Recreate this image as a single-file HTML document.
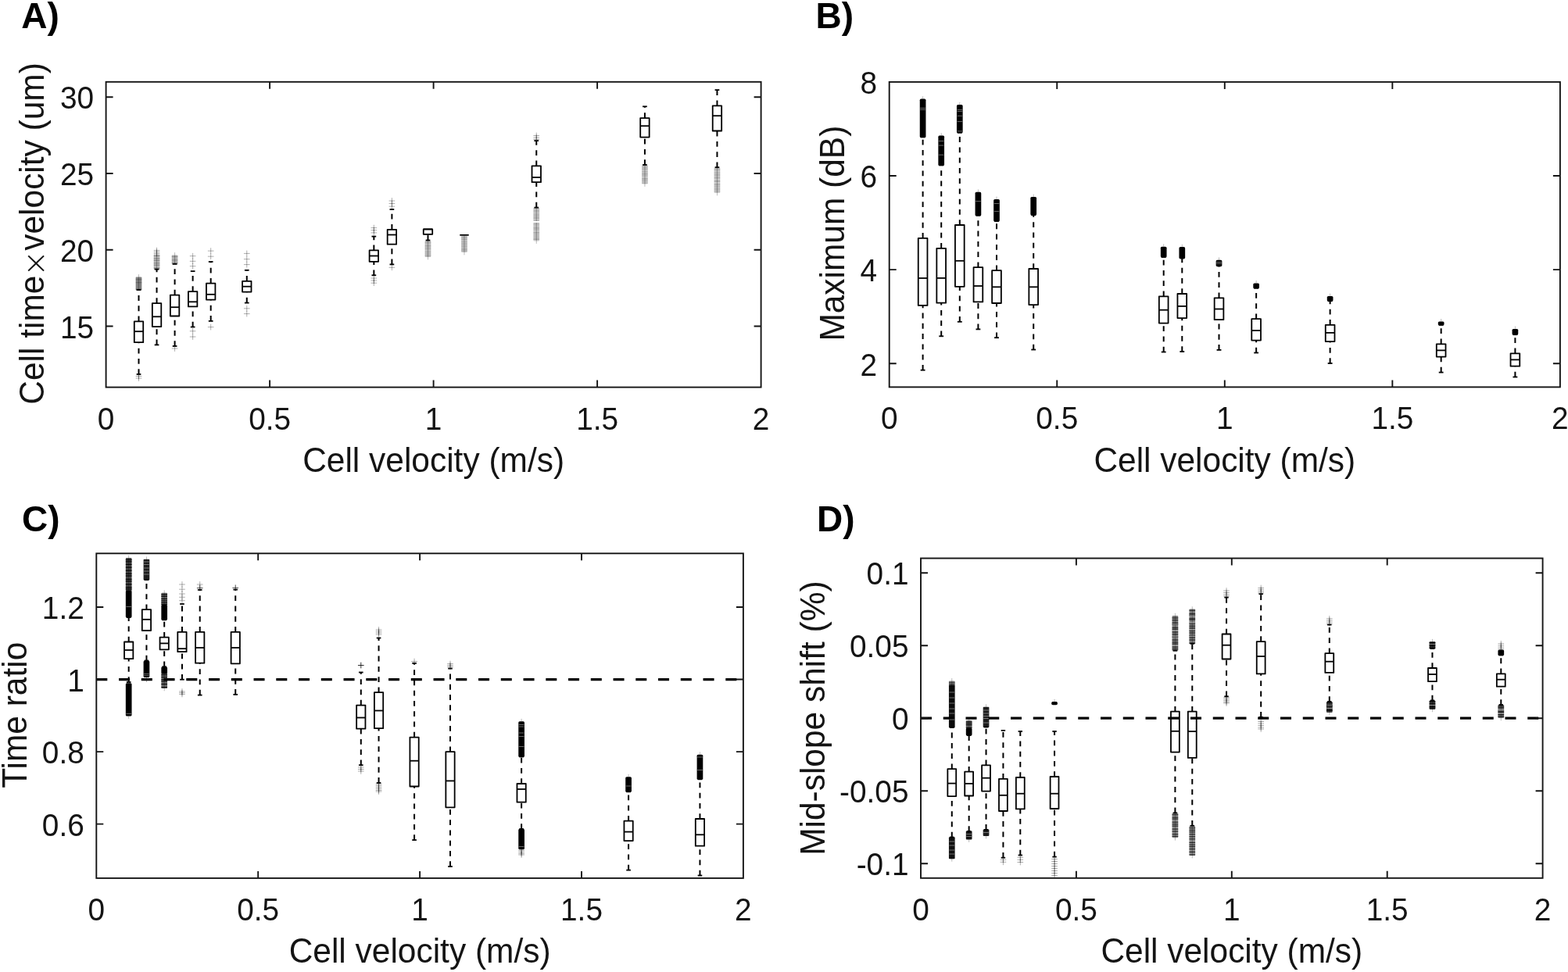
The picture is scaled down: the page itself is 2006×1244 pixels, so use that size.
<!DOCTYPE html>
<html><head><meta charset="utf-8"><title>Figure</title>
<style>
html,body{margin:0;padding:0;background:#fff;}
svg{display:block;filter:blur(0.4px);}
.ax{fill:none;stroke:#141414;stroke-width:1.9;}
.bx{fill:none;stroke:#000;stroke-width:1.8;stroke-linejoin:round;}
.wh{fill:none;stroke:#000;stroke-width:2.0;stroke-dasharray:6.8 6.46;}
.tk{font-family:"Liberation Sans",Arial,Helvetica,sans-serif;font-size:38.8px;fill:#141414;}
.lb{font-family:"Liberation Sans",Arial,Helvetica,sans-serif;font-size:42.45px;fill:#141414;}
.tm{font-family:"DejaVu Sans",sans-serif;font-weight:200;font-size:40px;}
.tt{font-family:"Liberation Sans",Arial,Helvetica,sans-serif;font-size:46px;font-weight:bold;fill:#000;}
</style></head><body>
<svg width="2006" height="1244" viewBox="0 0 2006 1244">
<defs><path id="m" d="M-3.85 0h7.7M0 -3.85v7.7" stroke="#000" stroke-width="1" fill="none"/></defs>
<rect width="2006" height="1244" fill="#fff"/>
<g>
<rect x="173.65" y="354.5" width="7.7" height="17" rx="1" fill="#000" opacity="0.5"/>
<line x1="177.5" y1="354.5" x2="177.5" y2="371.5" stroke="#000" stroke-width="1" opacity="0.3"/>
<line x1="173.65" y1="357.74" x2="181.35" y2="357.74" stroke="#000" stroke-width="1.2" opacity="0.2"/>
<line x1="173.65" y1="361.62" x2="181.35" y2="361.62" stroke="#000" stroke-width="1.2" opacity="0.2"/>
<line x1="173.65" y1="370.1" x2="181.35" y2="370.1" stroke="#000" stroke-width="1.2" opacity="0.2"/>
<line x1="177.5" y1="351.15" x2="177.5" y2="354.5" stroke="#000" stroke-width="0.9" opacity="0.3"/>
<use href="#m" x="177.5" y="481.5" opacity="0.32"/>
<use href="#m" x="177.5" y="484" opacity="0.32"/>
<line x1="177.5" y1="411.4" x2="177.5" y2="371" class="wh"/>
<line x1="174.64" y1="371" x2="180.36" y2="371" class="bx"/>
<line x1="177.5" y1="479" x2="177.5" y2="438.2" class="wh"/>
<line x1="174.64" y1="479" x2="180.36" y2="479" class="bx"/>
<rect x="171.78" y="411.4" width="11.44" height="26.8" class="bx"/>
<line x1="171.78" y1="424.2" x2="183.22" y2="424.2" class="bx"/>
<use href="#m" x="200.54" y="320.5" opacity="0.32"/>
<use href="#m" x="200.54" y="322.5" opacity="0.32"/>
<use href="#m" x="200.54" y="324.5" opacity="0.32"/>
<rect x="196.69" y="325.5" width="7.7" height="19.6" rx="1" fill="#000" opacity="0.28"/>
<line x1="200.54" y1="325.5" x2="200.54" y2="345.1" stroke="#000" stroke-width="1" opacity="0.3"/>
<line x1="196.69" y1="327.47" x2="204.39" y2="327.47" stroke="#000" stroke-width="1.2" opacity="0.25"/>
<line x1="196.69" y1="330.94" x2="204.39" y2="330.94" stroke="#000" stroke-width="1.2" opacity="0.25"/>
<line x1="196.69" y1="333.46" x2="204.39" y2="333.46" stroke="#000" stroke-width="1.2" opacity="0.25"/>
<line x1="196.69" y1="336.74" x2="204.39" y2="336.74" stroke="#000" stroke-width="1.2" opacity="0.25"/>
<line x1="196.69" y1="339.29" x2="204.39" y2="339.29" stroke="#000" stroke-width="1.2" opacity="0.25"/>
<line x1="196.69" y1="343.01" x2="204.39" y2="343.01" stroke="#000" stroke-width="1.2" opacity="0.25"/>
<line x1="200.54" y1="388.1" x2="200.54" y2="344.6" class="wh"/>
<line x1="197.69" y1="344.6" x2="203.4" y2="344.6" class="bx"/>
<line x1="200.54" y1="441.4" x2="200.54" y2="418.1" class="wh"/>
<line x1="197.69" y1="441.4" x2="203.4" y2="441.4" class="bx"/>
<rect x="194.83" y="388.1" width="11.44" height="30" class="bx"/>
<line x1="194.83" y1="405.3" x2="206.26" y2="405.3" class="bx"/>
<rect x="219.74" y="326.5" width="7.7" height="11.9" rx="1" fill="#000" opacity="0.3"/>
<line x1="223.59" y1="326.5" x2="223.59" y2="338.4" stroke="#000" stroke-width="1" opacity="0.3"/>
<line x1="219.74" y1="328.27" x2="227.44" y2="328.27" stroke="#000" stroke-width="1.2" opacity="0.2"/>
<line x1="219.74" y1="332.88" x2="227.44" y2="332.88" stroke="#000" stroke-width="1.2" opacity="0.2"/>
<line x1="219.74" y1="336.37" x2="227.44" y2="336.37" stroke="#000" stroke-width="1.2" opacity="0.2"/>
<line x1="223.59" y1="323.15" x2="223.59" y2="326.5" stroke="#000" stroke-width="0.9" opacity="0.3"/>
<use href="#m" x="223.59" y="446" opacity="0.32"/>
<line x1="223.59" y1="377.6" x2="223.59" y2="337.9" class="wh"/>
<line x1="220.73" y1="337.9" x2="226.45" y2="337.9" class="bx"/>
<line x1="223.59" y1="443" x2="223.59" y2="404.5" class="wh"/>
<line x1="220.73" y1="443" x2="226.45" y2="443" class="bx"/>
<rect x="217.87" y="377.6" width="11.44" height="26.9" class="bx"/>
<line x1="217.87" y1="393.2" x2="229.31" y2="393.2" class="bx"/>
<use href="#m" x="246.63" y="327.7" opacity="0.32"/>
<use href="#m" x="246.63" y="334.3" opacity="0.32"/>
<use href="#m" x="246.63" y="340.7" opacity="0.32"/>
<use href="#m" x="246.63" y="423.8" opacity="0.32"/>
<use href="#m" x="246.63" y="431" opacity="0.32"/>
<line x1="246.63" y1="373.1" x2="246.63" y2="347.1" class="wh"/>
<line x1="243.78" y1="347.1" x2="249.49" y2="347.1" class="bx"/>
<line x1="246.63" y1="418.5" x2="246.63" y2="392.4" class="wh"/>
<line x1="243.78" y1="418.5" x2="249.49" y2="418.5" class="bx"/>
<rect x="240.92" y="373.1" width="11.44" height="19.3" class="bx"/>
<line x1="240.92" y1="386.3" x2="252.35" y2="386.3" class="bx"/>
<use href="#m" x="269.68" y="321.1" opacity="0.32"/>
<use href="#m" x="269.68" y="328.2" opacity="0.32"/>
<use href="#m" x="269.68" y="418.6" opacity="0.32"/>
<line x1="269.68" y1="362.7" x2="269.68" y2="335" class="wh"/>
<line x1="266.82" y1="335" x2="272.54" y2="335" class="bx"/>
<line x1="269.68" y1="410.9" x2="269.68" y2="383.6" class="wh"/>
<line x1="266.82" y1="410.9" x2="272.54" y2="410.9" class="bx"/>
<rect x="263.96" y="362.7" width="11.44" height="20.9" class="bx"/>
<line x1="263.96" y1="376.8" x2="275.4" y2="376.8" class="bx"/>
<use href="#m" x="315.77" y="324.4" opacity="0.32"/>
<use href="#m" x="315.77" y="331.7" opacity="0.32"/>
<use href="#m" x="315.77" y="338.6" opacity="0.32"/>
<use href="#m" x="315.77" y="394.8" opacity="0.32"/>
<use href="#m" x="315.77" y="401.6" opacity="0.32"/>
<line x1="315.77" y1="359.8" x2="315.77" y2="345.8" class="wh"/>
<line x1="312.91" y1="345.8" x2="318.63" y2="345.8" class="bx"/>
<line x1="315.77" y1="387.6" x2="315.77" y2="373.6" class="wh"/>
<line x1="312.91" y1="387.6" x2="318.63" y2="387.6" class="bx"/>
<rect x="310.05" y="359.8" width="11.44" height="13.8" class="bx"/>
<line x1="310.05" y1="366.7" x2="321.49" y2="366.7" class="bx"/>
<use href="#m" x="478.34" y="291.6" opacity="0.32"/>
<use href="#m" x="478.34" y="294.7" opacity="0.32"/>
<use href="#m" x="478.34" y="297.9" opacity="0.32"/>
<use href="#m" x="478.34" y="356" opacity="0.32"/>
<use href="#m" x="478.34" y="359" opacity="0.32"/>
<use href="#m" x="478.34" y="362.2" opacity="0.32"/>
<line x1="478.34" y1="320.4" x2="478.34" y2="302.6" class="wh"/>
<line x1="475.48" y1="302.6" x2="481.2" y2="302.6" class="bx"/>
<line x1="478.34" y1="352.3" x2="478.34" y2="334.8" class="wh"/>
<line x1="475.48" y1="352.3" x2="481.2" y2="352.3" class="bx"/>
<rect x="472.62" y="320.4" width="11.44" height="14.4" class="bx"/>
<line x1="472.62" y1="327.5" x2="484.06" y2="327.5" class="bx"/>
<use href="#m" x="501.39" y="257" opacity="0.32"/>
<use href="#m" x="501.39" y="260.5" opacity="0.32"/>
<use href="#m" x="501.39" y="264.2" opacity="0.32"/>
<use href="#m" x="501.39" y="342.3" opacity="0.32"/>
<line x1="501.39" y1="293.8" x2="501.39" y2="268" class="wh"/>
<line x1="498.53" y1="268" x2="504.25" y2="268" class="bx"/>
<line x1="501.39" y1="338.4" x2="501.39" y2="312.7" class="wh"/>
<line x1="498.53" y1="338.4" x2="504.25" y2="338.4" class="bx"/>
<rect x="495.67" y="293.8" width="11.44" height="18.9" class="bx"/>
<line x1="495.67" y1="300.5" x2="507.11" y2="300.5" class="bx"/>
<rect x="543.63" y="308" width="7.7" height="21" rx="1" fill="#000" opacity="0.22"/>
<line x1="547.48" y1="308" x2="547.48" y2="329" stroke="#000" stroke-width="1" opacity="0.3"/>
<line x1="543.63" y1="309.9" x2="551.33" y2="309.9" stroke="#000" stroke-width="1.2" opacity="0.14"/>
<line x1="543.63" y1="311.12" x2="551.33" y2="311.12" stroke="#000" stroke-width="1.2" opacity="0.14"/>
<line x1="543.63" y1="313.91" x2="551.33" y2="313.91" stroke="#000" stroke-width="1.2" opacity="0.14"/>
<line x1="543.63" y1="315.13" x2="551.33" y2="315.13" stroke="#000" stroke-width="1.2" opacity="0.14"/>
<line x1="543.63" y1="317.19" x2="551.33" y2="317.19" stroke="#000" stroke-width="1.2" opacity="0.14"/>
<line x1="543.63" y1="318.89" x2="551.33" y2="318.89" stroke="#000" stroke-width="1.2" opacity="0.14"/>
<line x1="543.63" y1="321.87" x2="551.33" y2="321.87" stroke="#000" stroke-width="1.2" opacity="0.14"/>
<line x1="543.63" y1="323.95" x2="551.33" y2="323.95" stroke="#000" stroke-width="1.2" opacity="0.14"/>
<line x1="543.63" y1="326.09" x2="551.33" y2="326.09" stroke="#000" stroke-width="1.2" opacity="0.14"/>
<line x1="543.63" y1="327.73" x2="551.33" y2="327.73" stroke="#000" stroke-width="1.2" opacity="0.14"/>
<line x1="547.48" y1="329" x2="547.48" y2="332.35" stroke="#000" stroke-width="0.9" opacity="0.3"/>
<line x1="547.48" y1="307.5" x2="547.48" y2="299.8" class="wh"/>
<line x1="544.62" y1="307.5" x2="550.34" y2="307.5" class="bx"/>
<rect x="541.76" y="293.4" width="11.44" height="6.4" class="bx"/>
<line x1="541.76" y1="293.4" x2="553.2" y2="293.4" class="bx"/>
<rect x="590.14" y="301.5" width="7.7" height="21.5" rx="1" fill="#000" opacity="0.22"/>
<line x1="593.99" y1="301.5" x2="593.99" y2="323" stroke="#000" stroke-width="1" opacity="0.3"/>
<line x1="590.14" y1="303.37" x2="597.84" y2="303.37" stroke="#000" stroke-width="1.2" opacity="0.14"/>
<line x1="590.14" y1="305" x2="597.84" y2="305" stroke="#000" stroke-width="1.2" opacity="0.14"/>
<line x1="590.14" y1="306.62" x2="597.84" y2="306.62" stroke="#000" stroke-width="1.2" opacity="0.14"/>
<line x1="590.14" y1="309.29" x2="597.84" y2="309.29" stroke="#000" stroke-width="1.2" opacity="0.14"/>
<line x1="590.14" y1="311.4" x2="597.84" y2="311.4" stroke="#000" stroke-width="1.2" opacity="0.14"/>
<line x1="590.14" y1="313.48" x2="597.84" y2="313.48" stroke="#000" stroke-width="1.2" opacity="0.14"/>
<line x1="590.14" y1="315.57" x2="597.84" y2="315.57" stroke="#000" stroke-width="1.2" opacity="0.14"/>
<line x1="590.14" y1="318.04" x2="597.84" y2="318.04" stroke="#000" stroke-width="1.2" opacity="0.14"/>
<line x1="590.14" y1="319.59" x2="597.84" y2="319.59" stroke="#000" stroke-width="1.2" opacity="0.14"/>
<line x1="590.14" y1="321.14" x2="597.84" y2="321.14" stroke="#000" stroke-width="1.2" opacity="0.14"/>
<line x1="593.99" y1="323" x2="593.99" y2="326.35" stroke="#000" stroke-width="0.9" opacity="0.3"/>
<line x1="588.27" y1="300.8" x2="599.71" y2="300.8" class="bx"/>
<use href="#m" x="686.25" y="173.5" opacity="0.32"/>
<use href="#m" x="686.25" y="176" opacity="0.32"/>
<use href="#m" x="686.25" y="178.3" opacity="0.32"/>
<rect x="682.4" y="266" width="7.7" height="17.1" rx="1" fill="#000" opacity="0.2"/>
<line x1="686.25" y1="266" x2="686.25" y2="283.1" stroke="#000" stroke-width="1" opacity="0.3"/>
<line x1="682.4" y1="266.97" x2="690.1" y2="266.97" stroke="#000" stroke-width="1.2" opacity="0.14"/>
<line x1="682.4" y1="269.33" x2="690.1" y2="269.33" stroke="#000" stroke-width="1.2" opacity="0.14"/>
<line x1="682.4" y1="271.08" x2="690.1" y2="271.08" stroke="#000" stroke-width="1.2" opacity="0.14"/>
<line x1="682.4" y1="273.92" x2="690.1" y2="273.92" stroke="#000" stroke-width="1.2" opacity="0.14"/>
<line x1="682.4" y1="275.79" x2="690.1" y2="275.79" stroke="#000" stroke-width="1.2" opacity="0.14"/>
<line x1="682.4" y1="277.92" x2="690.1" y2="277.92" stroke="#000" stroke-width="1.2" opacity="0.14"/>
<line x1="682.4" y1="279.43" x2="690.1" y2="279.43" stroke="#000" stroke-width="1.2" opacity="0.14"/>
<line x1="682.4" y1="282.1" x2="690.1" y2="282.1" stroke="#000" stroke-width="1.2" opacity="0.14"/>
<rect x="682.4" y="284.9" width="7.7" height="23.6" rx="1" fill="#000" opacity="0.2"/>
<line x1="686.25" y1="284.9" x2="686.25" y2="308.5" stroke="#000" stroke-width="1" opacity="0.3"/>
<line x1="682.4" y1="285.73" x2="690.1" y2="285.73" stroke="#000" stroke-width="1.2" opacity="0.14"/>
<line x1="682.4" y1="287.83" x2="690.1" y2="287.83" stroke="#000" stroke-width="1.2" opacity="0.14"/>
<line x1="682.4" y1="290.89" x2="690.1" y2="290.89" stroke="#000" stroke-width="1.2" opacity="0.14"/>
<line x1="682.4" y1="292.33" x2="690.1" y2="292.33" stroke="#000" stroke-width="1.2" opacity="0.14"/>
<line x1="682.4" y1="294.06" x2="690.1" y2="294.06" stroke="#000" stroke-width="1.2" opacity="0.14"/>
<line x1="682.4" y1="297.28" x2="690.1" y2="297.28" stroke="#000" stroke-width="1.2" opacity="0.14"/>
<line x1="682.4" y1="298.47" x2="690.1" y2="298.47" stroke="#000" stroke-width="1.2" opacity="0.14"/>
<line x1="682.4" y1="300.77" x2="690.1" y2="300.77" stroke="#000" stroke-width="1.2" opacity="0.14"/>
<line x1="682.4" y1="303.35" x2="690.1" y2="303.35" stroke="#000" stroke-width="1.2" opacity="0.14"/>
<line x1="682.4" y1="305.55" x2="690.1" y2="305.55" stroke="#000" stroke-width="1.2" opacity="0.14"/>
<line x1="682.4" y1="306.43" x2="690.1" y2="306.43" stroke="#000" stroke-width="1.2" opacity="0.14"/>
<line x1="686.25" y1="308.5" x2="686.25" y2="311.85" stroke="#000" stroke-width="0.9" opacity="0.3"/>
<line x1="686.25" y1="212.3" x2="686.25" y2="180.1" class="wh"/>
<line x1="683.39" y1="180.1" x2="689.11" y2="180.1" class="bx"/>
<line x1="686.25" y1="265.6" x2="686.25" y2="233.2" class="wh"/>
<line x1="683.39" y1="265.6" x2="689.11" y2="265.6" class="bx"/>
<rect x="680.53" y="212.3" width="11.44" height="20.9" class="bx"/>
<line x1="680.53" y1="227" x2="691.97" y2="227" class="bx"/>
<rect x="821.09" y="211.5" width="7.7" height="24" rx="1" fill="#000" opacity="0.2"/>
<line x1="824.94" y1="211.5" x2="824.94" y2="235.5" stroke="#000" stroke-width="1" opacity="0.3"/>
<line x1="821.09" y1="213.22" x2="828.79" y2="213.22" stroke="#000" stroke-width="1.2" opacity="0.14"/>
<line x1="821.09" y1="215.13" x2="828.79" y2="215.13" stroke="#000" stroke-width="1.2" opacity="0.14"/>
<line x1="821.09" y1="216.97" x2="828.79" y2="216.97" stroke="#000" stroke-width="1.2" opacity="0.14"/>
<line x1="821.09" y1="219.67" x2="828.79" y2="219.67" stroke="#000" stroke-width="1.2" opacity="0.14"/>
<line x1="821.09" y1="221.95" x2="828.79" y2="221.95" stroke="#000" stroke-width="1.2" opacity="0.14"/>
<line x1="821.09" y1="223.17" x2="828.79" y2="223.17" stroke="#000" stroke-width="1.2" opacity="0.14"/>
<line x1="821.09" y1="225.02" x2="828.79" y2="225.02" stroke="#000" stroke-width="1.2" opacity="0.14"/>
<line x1="821.09" y1="228.39" x2="828.79" y2="228.39" stroke="#000" stroke-width="1.2" opacity="0.14"/>
<line x1="821.09" y1="229.76" x2="828.79" y2="229.76" stroke="#000" stroke-width="1.2" opacity="0.14"/>
<line x1="821.09" y1="231.65" x2="828.79" y2="231.65" stroke="#000" stroke-width="1.2" opacity="0.14"/>
<line x1="821.09" y1="234.24" x2="828.79" y2="234.24" stroke="#000" stroke-width="1.2" opacity="0.14"/>
<line x1="824.94" y1="235.5" x2="824.94" y2="238.85" stroke="#000" stroke-width="0.9" opacity="0.3"/>
<line x1="824.94" y1="151.1" x2="824.94" y2="136.3" class="wh"/>
<line x1="822.08" y1="136.3" x2="827.8" y2="136.3" class="bx"/>
<line x1="824.94" y1="211" x2="824.94" y2="175.6" class="wh"/>
<line x1="822.08" y1="211" x2="827.8" y2="211" class="bx"/>
<rect x="819.22" y="151.1" width="11.44" height="24.5" class="bx"/>
<line x1="819.22" y1="161.2" x2="830.66" y2="161.2" class="bx"/>
<rect x="913.6" y="214.7" width="7.7" height="32.3" rx="1" fill="#000" opacity="0.2"/>
<line x1="917.45" y1="214.7" x2="917.45" y2="247" stroke="#000" stroke-width="1" opacity="0.3"/>
<line x1="913.6" y1="216.31" x2="921.3" y2="216.31" stroke="#000" stroke-width="1.2" opacity="0.14"/>
<line x1="913.6" y1="217.87" x2="921.3" y2="217.87" stroke="#000" stroke-width="1.2" opacity="0.14"/>
<line x1="913.6" y1="220.76" x2="921.3" y2="220.76" stroke="#000" stroke-width="1.2" opacity="0.14"/>
<line x1="913.6" y1="222.89" x2="921.3" y2="222.89" stroke="#000" stroke-width="1.2" opacity="0.14"/>
<line x1="913.6" y1="224.4" x2="921.3" y2="224.4" stroke="#000" stroke-width="1.2" opacity="0.14"/>
<line x1="913.6" y1="226.74" x2="921.3" y2="226.74" stroke="#000" stroke-width="1.2" opacity="0.14"/>
<line x1="913.6" y1="228.1" x2="921.3" y2="228.1" stroke="#000" stroke-width="1.2" opacity="0.14"/>
<line x1="913.6" y1="231.47" x2="921.3" y2="231.47" stroke="#000" stroke-width="1.2" opacity="0.14"/>
<line x1="913.6" y1="232.3" x2="921.3" y2="232.3" stroke="#000" stroke-width="1.2" opacity="0.14"/>
<line x1="913.6" y1="235.5" x2="921.3" y2="235.5" stroke="#000" stroke-width="1.2" opacity="0.14"/>
<line x1="913.6" y1="236.76" x2="921.3" y2="236.76" stroke="#000" stroke-width="1.2" opacity="0.14"/>
<line x1="913.6" y1="238.8" x2="921.3" y2="238.8" stroke="#000" stroke-width="1.2" opacity="0.14"/>
<line x1="913.6" y1="241.12" x2="921.3" y2="241.12" stroke="#000" stroke-width="1.2" opacity="0.14"/>
<line x1="913.6" y1="242.84" x2="921.3" y2="242.84" stroke="#000" stroke-width="1.2" opacity="0.14"/>
<line x1="913.6" y1="244.97" x2="921.3" y2="244.97" stroke="#000" stroke-width="1.2" opacity="0.14"/>
<line x1="917.45" y1="247" x2="917.45" y2="250.35" stroke="#000" stroke-width="0.9" opacity="0.3"/>
<line x1="917.45" y1="135.3" x2="917.45" y2="115.1" class="wh"/>
<line x1="914.59" y1="115.1" x2="920.31" y2="115.1" class="bx"/>
<line x1="917.45" y1="214.2" x2="917.45" y2="167.5" class="wh"/>
<line x1="914.59" y1="214.2" x2="920.31" y2="214.2" class="bx"/>
<rect x="911.73" y="135.3" width="11.44" height="32.2" class="bx"/>
<line x1="911.73" y1="148.2" x2="923.17" y2="148.2" class="bx"/>
<path d="M345.1 495.6v-9M345.1 104.8v9M554.6 495.6v-9M554.6 104.8v9M764.1 495.6v-9M764.1 104.8v9M135.6 417.5h9M973.6 417.5h-9M135.6 319.73h9M973.6 319.73h-9M135.6 221.97h9M973.6 221.97h-9M135.6 124.2h9M973.6 124.2h-9" class="ax"/>
<rect x="135.6" y="104.8" width="838" height="390.8" class="ax"/>
<text transform="translate(135.6 549.6) scale(1 1.04)" class="tk" text-anchor="middle">0</text>
<text transform="translate(345.1 549.6) scale(1 1.04)" class="tk" text-anchor="middle">0.5</text>
<text transform="translate(554.6 549.6) scale(1 1.04)" class="tk" text-anchor="middle">1</text>
<text transform="translate(764.1 549.6) scale(1 1.04)" class="tk" text-anchor="middle">1.5</text>
<text transform="translate(973.6 549.6) scale(1 1.04)" class="tk" text-anchor="middle">2</text>
<text transform="translate(120.1 432.7) scale(1 1.04)" class="tk" text-anchor="end">15</text>
<text transform="translate(120.1 334.93) scale(1 1.04)" class="tk" text-anchor="end">20</text>
<text transform="translate(120.1 237.17) scale(1 1.04)" class="tk" text-anchor="end">25</text>
<text transform="translate(120.1 139.4) scale(1 1.04)" class="tk" text-anchor="end">30</text>
<text transform="translate(554.6 603.8) scale(1 1.04)" class="lb" text-anchor="middle">Cell velocity (m/s)</text>
<text transform="translate(56 517.7) rotate(-90) scale(1 1.04)" class="lb">Cell time<tspan class="tm" dx="-1.1" dy="2.8">×</tspan><tspan dx="-0.5" dy="-2.8">velocity (um)</tspan></text>
<text x="27.3" y="35.8" class="tt">A)</text>
</g>
<g>
<rect x="1176.76" y="126.6" width="7.7" height="49.4" rx="1.6" fill="#000"/>
<line x1="1177.26" y1="138.3" x2="1183.96" y2="138.3" stroke="#fff" stroke-width="0.9" opacity="0.45"/>
<line x1="1177.26" y1="140.3" x2="1183.96" y2="140.3" stroke="#fff" stroke-width="0.9" opacity="0.45"/>
<line x1="1180.61" y1="123.25" x2="1180.61" y2="126.6" stroke="#000" stroke-width="0.9" opacity="0.3"/>
<line x1="1180.61" y1="304.9" x2="1180.61" y2="175.5" class="wh"/>
<line x1="1177.68" y1="175.5" x2="1183.54" y2="175.5" class="bx"/>
<line x1="1180.61" y1="473.7" x2="1180.61" y2="390.9" class="wh"/>
<line x1="1177.68" y1="473.7" x2="1183.54" y2="473.7" class="bx"/>
<rect x="1174.75" y="304.9" width="11.71" height="86" class="bx"/>
<line x1="1174.75" y1="356" x2="1186.47" y2="356" class="bx"/>
<rect x="1200.36" y="173.6" width="7.7" height="38.4" rx="1.6" fill="#000"/>
<line x1="1200.86" y1="180.5" x2="1207.56" y2="180.5" stroke="#fff" stroke-width="0.9" opacity="0.45"/>
<line x1="1200.86" y1="186.1" x2="1207.56" y2="186.1" stroke="#fff" stroke-width="0.9" opacity="0.45"/>
<line x1="1200.86" y1="198.2" x2="1207.56" y2="198.2" stroke="#fff" stroke-width="0.9" opacity="0.45"/>
<line x1="1204.21" y1="170.25" x2="1204.21" y2="173.6" stroke="#000" stroke-width="0.9" opacity="0.3"/>
<line x1="1204.21" y1="317.8" x2="1204.21" y2="211.5" class="wh"/>
<line x1="1201.28" y1="211.5" x2="1207.14" y2="211.5" class="bx"/>
<line x1="1204.21" y1="430.3" x2="1204.21" y2="387.7" class="wh"/>
<line x1="1201.28" y1="430.3" x2="1207.14" y2="430.3" class="bx"/>
<rect x="1198.35" y="317.8" width="11.71" height="69.9" class="bx"/>
<line x1="1198.35" y1="355.9" x2="1210.07" y2="355.9" class="bx"/>
<rect x="1223.96" y="134.1" width="7.7" height="36.2" rx="1.6" fill="#000"/>
<line x1="1224.46" y1="140.4" x2="1231.16" y2="140.4" stroke="#fff" stroke-width="0.9" opacity="0.45"/>
<line x1="1224.46" y1="142.6" x2="1231.16" y2="142.6" stroke="#fff" stroke-width="0.9" opacity="0.45"/>
<line x1="1224.46" y1="148.3" x2="1231.16" y2="148.3" stroke="#fff" stroke-width="0.9" opacity="0.45"/>
<line x1="1224.46" y1="155.6" x2="1231.16" y2="155.6" stroke="#fff" stroke-width="0.9" opacity="0.45"/>
<line x1="1224.46" y1="167.9" x2="1231.16" y2="167.9" stroke="#fff" stroke-width="0.9" opacity="0.45"/>
<line x1="1227.81" y1="130.75" x2="1227.81" y2="134.1" stroke="#000" stroke-width="0.9" opacity="0.3"/>
<line x1="1227.81" y1="288" x2="1227.81" y2="169.8" class="wh"/>
<line x1="1224.88" y1="169.8" x2="1230.74" y2="169.8" class="bx"/>
<line x1="1227.81" y1="411.8" x2="1227.81" y2="366.8" class="wh"/>
<line x1="1224.88" y1="411.8" x2="1230.74" y2="411.8" class="bx"/>
<rect x="1221.95" y="288" width="11.71" height="78.8" class="bx"/>
<line x1="1221.95" y1="333.8" x2="1233.67" y2="333.8" class="bx"/>
<rect x="1247.56" y="245.8" width="7.7" height="30.5" rx="1.6" fill="#000"/>
<line x1="1248.06" y1="257.6" x2="1254.76" y2="257.6" stroke="#fff" stroke-width="0.9" opacity="0.45"/>
<line x1="1251.41" y1="242.45" x2="1251.41" y2="245.8" stroke="#000" stroke-width="0.9" opacity="0.3"/>
<line x1="1251.41" y1="342.2" x2="1251.41" y2="275.8" class="wh"/>
<line x1="1248.48" y1="275.8" x2="1254.34" y2="275.8" class="bx"/>
<line x1="1251.41" y1="421.4" x2="1251.41" y2="386.4" class="wh"/>
<line x1="1248.48" y1="421.4" x2="1254.34" y2="421.4" class="bx"/>
<rect x="1245.55" y="342.2" width="11.71" height="44.2" class="bx"/>
<line x1="1245.55" y1="366" x2="1257.27" y2="366" class="bx"/>
<rect x="1271.16" y="254.9" width="7.7" height="28.6" rx="1.6" fill="#000"/>
<line x1="1271.66" y1="260.5" x2="1278.36" y2="260.5" stroke="#fff" stroke-width="0.9" opacity="0.45"/>
<line x1="1271.66" y1="270.6" x2="1278.36" y2="270.6" stroke="#fff" stroke-width="0.9" opacity="0.45"/>
<line x1="1275.01" y1="251.55" x2="1275.01" y2="254.9" stroke="#000" stroke-width="0.9" opacity="0.3"/>
<line x1="1275.01" y1="346.2" x2="1275.01" y2="283" class="wh"/>
<line x1="1272.08" y1="283" x2="1277.94" y2="283" class="bx"/>
<line x1="1275.01" y1="432.2" x2="1275.01" y2="388" class="wh"/>
<line x1="1272.08" y1="432.2" x2="1277.94" y2="432.2" class="bx"/>
<rect x="1269.15" y="346.2" width="11.71" height="41.8" class="bx"/>
<line x1="1269.15" y1="367.3" x2="1280.87" y2="367.3" class="bx"/>
<rect x="1318.36" y="252" width="7.7" height="23.7" rx="1.6" fill="#000"/>
<line x1="1322.21" y1="248.65" x2="1322.21" y2="252" stroke="#000" stroke-width="0.9" opacity="0.3"/>
<line x1="1322.21" y1="344" x2="1322.21" y2="275.2" class="wh"/>
<line x1="1319.28" y1="275.2" x2="1325.14" y2="275.2" class="bx"/>
<line x1="1322.21" y1="447.5" x2="1322.21" y2="390.1" class="wh"/>
<line x1="1319.28" y1="447.5" x2="1325.14" y2="447.5" class="bx"/>
<rect x="1316.36" y="344" width="11.71" height="46.1" class="bx"/>
<line x1="1316.36" y1="367.3" x2="1328.07" y2="367.3" class="bx"/>
<rect x="1484.85" y="315.7" width="7.7" height="13.8" rx="1.6" fill="#000"/>
<line x1="1488.7" y1="312.35" x2="1488.7" y2="315.7" stroke="#000" stroke-width="0.9" opacity="0.3"/>
<line x1="1488.7" y1="379.3" x2="1488.7" y2="329" class="wh"/>
<line x1="1485.78" y1="329" x2="1491.63" y2="329" class="bx"/>
<line x1="1488.7" y1="450.5" x2="1488.7" y2="413.6" class="wh"/>
<line x1="1485.78" y1="450.5" x2="1491.63" y2="450.5" class="bx"/>
<rect x="1482.85" y="379.3" width="11.71" height="34.3" class="bx"/>
<line x1="1482.85" y1="396.7" x2="1494.56" y2="396.7" class="bx"/>
<rect x="1508.45" y="316.1" width="7.7" height="14.9" rx="1.6" fill="#000"/>
<line x1="1512.3" y1="312.75" x2="1512.3" y2="316.1" stroke="#000" stroke-width="0.9" opacity="0.3"/>
<line x1="1512.3" y1="376" x2="1512.3" y2="330.5" class="wh"/>
<line x1="1509.38" y1="330.5" x2="1515.23" y2="330.5" class="bx"/>
<line x1="1512.3" y1="450" x2="1512.3" y2="407.1" class="wh"/>
<line x1="1509.38" y1="450" x2="1515.23" y2="450" class="bx"/>
<rect x="1506.45" y="376" width="11.71" height="31.1" class="bx"/>
<line x1="1506.45" y1="391.9" x2="1518.16" y2="391.9" class="bx"/>
<rect x="1555.66" y="332.8" width="7.7" height="8" rx="1.6" fill="#000"/>
<line x1="1556.16" y1="335.5" x2="1562.86" y2="335.5" stroke="#fff" stroke-width="0.9" opacity="0.45"/>
<line x1="1556.16" y1="337.3" x2="1562.86" y2="337.3" stroke="#fff" stroke-width="0.9" opacity="0.45"/>
<line x1="1559.51" y1="329.45" x2="1559.51" y2="332.8" stroke="#000" stroke-width="0.9" opacity="0.3"/>
<line x1="1559.51" y1="381.3" x2="1559.51" y2="340.3" class="wh"/>
<line x1="1556.58" y1="340.3" x2="1562.43" y2="340.3" class="bx"/>
<line x1="1559.51" y1="447.9" x2="1559.51" y2="409.2" class="wh"/>
<line x1="1556.58" y1="447.9" x2="1562.43" y2="447.9" class="bx"/>
<rect x="1553.65" y="381.3" width="11.71" height="27.9" class="bx"/>
<line x1="1553.65" y1="395.5" x2="1565.36" y2="395.5" class="bx"/>
<rect x="1603.29" y="362.4" width="7.7" height="6.9" rx="1.6" fill="#000"/>
<line x1="1607.14" y1="359.05" x2="1607.14" y2="362.4" stroke="#000" stroke-width="0.9" opacity="0.3"/>
<line x1="1607.14" y1="408.2" x2="1607.14" y2="368.8" class="wh"/>
<line x1="1604.21" y1="368.8" x2="1610.06" y2="368.8" class="bx"/>
<line x1="1607.14" y1="451.5" x2="1607.14" y2="435.6" class="wh"/>
<line x1="1604.21" y1="451.5" x2="1610.06" y2="451.5" class="bx"/>
<rect x="1601.28" y="408.2" width="11.71" height="27.4" class="bx"/>
<line x1="1601.28" y1="423" x2="1612.99" y2="423" class="bx"/>
<rect x="1697.77" y="379" width="7.7" height="6.7" rx="1.6" fill="#000"/>
<line x1="1701.62" y1="375.65" x2="1701.62" y2="379" stroke="#000" stroke-width="0.9" opacity="0.3"/>
<line x1="1701.62" y1="415.8" x2="1701.62" y2="385.2" class="wh"/>
<line x1="1698.69" y1="385.2" x2="1704.55" y2="385.2" class="bx"/>
<line x1="1701.62" y1="465" x2="1701.62" y2="437.1" class="wh"/>
<line x1="1698.69" y1="465" x2="1704.55" y2="465" class="bx"/>
<rect x="1695.77" y="415.8" width="11.71" height="21.3" class="bx"/>
<line x1="1695.77" y1="425.9" x2="1707.48" y2="425.9" class="bx"/>
<rect x="1839.81" y="411.4" width="7.7" height="5" rx="1.6" fill="#000"/>
<line x1="1843.66" y1="408.05" x2="1843.66" y2="411.4" stroke="#000" stroke-width="0.9" opacity="0.3"/>
<line x1="1843.66" y1="440.3" x2="1843.66" y2="415.9" class="wh"/>
<line x1="1840.73" y1="415.9" x2="1846.58" y2="415.9" class="bx"/>
<line x1="1843.66" y1="476.6" x2="1843.66" y2="456.6" class="wh"/>
<line x1="1840.73" y1="476.6" x2="1846.58" y2="476.6" class="bx"/>
<rect x="1837.8" y="440.3" width="11.71" height="16.3" class="bx"/>
<line x1="1837.8" y1="448.4" x2="1849.51" y2="448.4" class="bx"/>
<rect x="1934.55" y="420.9" width="7.7" height="7.8" rx="1.6" fill="#000"/>
<line x1="1938.4" y1="417.55" x2="1938.4" y2="420.9" stroke="#000" stroke-width="0.9" opacity="0.3"/>
<line x1="1938.4" y1="452.3" x2="1938.4" y2="428.2" class="wh"/>
<line x1="1935.47" y1="428.2" x2="1941.33" y2="428.2" class="bx"/>
<line x1="1938.4" y1="482.5" x2="1938.4" y2="468.7" class="wh"/>
<line x1="1935.47" y1="482.5" x2="1941.33" y2="482.5" class="bx"/>
<rect x="1932.54" y="452.3" width="11.71" height="16.4" class="bx"/>
<line x1="1932.54" y1="460.4" x2="1944.26" y2="460.4" class="bx"/>
<path d="M1352.25 495.4v-9M1352.25 104.9v9M1566.8 495.4v-9M1566.8 104.9v9M1781.35 495.4v-9M1781.35 104.9v9M1137.7 465.3h9M1995.9 465.3h-9M1137.7 345.17h9M1995.9 345.17h-9M1137.7 225.03h9M1995.9 225.03h-9" class="ax"/>
<rect x="1137.7" y="104.9" width="858.2" height="390.5" class="ax"/>
<text transform="translate(1137.7 549.4) scale(1 1.04)" class="tk" text-anchor="middle">0</text>
<text transform="translate(1352.25 549.4) scale(1 1.04)" class="tk" text-anchor="middle">0.5</text>
<text transform="translate(1566.8 549.4) scale(1 1.04)" class="tk" text-anchor="middle">1</text>
<text transform="translate(1781.35 549.4) scale(1 1.04)" class="tk" text-anchor="middle">1.5</text>
<text transform="translate(1995.9 549.4) scale(1 1.04)" class="tk" text-anchor="middle">2</text>
<text transform="translate(1122.2 480.5) scale(1 1.04)" class="tk" text-anchor="end">2</text>
<text transform="translate(1122.2 360.37) scale(1 1.04)" class="tk" text-anchor="end">4</text>
<text transform="translate(1122.2 240.23) scale(1 1.04)" class="tk" text-anchor="end">6</text>
<text transform="translate(1122.2 120.1) scale(1 1.04)" class="tk" text-anchor="end">8</text>
<text transform="translate(1566.8 603.6) scale(1 1.04)" class="lb" text-anchor="middle">Cell velocity (m/s)</text>
<text transform="translate(1079.6 298.65) rotate(-90) scale(1 1.04)" class="lb" text-anchor="middle">Maximum (dB)</text>
<text x="1043.5" y="36" class="tt">B)</text>
</g>
<g>
<line x1="123.3" y1="869.56" x2="950.9" y2="869.56" stroke="#000" stroke-width="3.2" stroke-dasharray="14 14.75"/>
<rect x="160.83" y="714.1" width="7.7" height="42.4" rx="1" fill="#000" opacity="0.72"/>
<line x1="164.68" y1="714.1" x2="164.68" y2="756.5" stroke="#000" stroke-width="1" opacity="0.3"/>
<line x1="160.83" y1="716.49" x2="168.53" y2="716.49" stroke="#000" stroke-width="1.2" opacity="1"/>
<line x1="160.83" y1="718.87" x2="168.53" y2="718.87" stroke="#000" stroke-width="1.2" opacity="1"/>
<line x1="160.83" y1="722.34" x2="168.53" y2="722.34" stroke="#000" stroke-width="1.2" opacity="1"/>
<line x1="160.83" y1="726.14" x2="168.53" y2="726.14" stroke="#000" stroke-width="1.2" opacity="1"/>
<line x1="160.83" y1="730.18" x2="168.53" y2="730.18" stroke="#000" stroke-width="1.2" opacity="1"/>
<line x1="160.83" y1="734.22" x2="168.53" y2="734.22" stroke="#000" stroke-width="1.2" opacity="1"/>
<line x1="160.83" y1="737.01" x2="168.53" y2="737.01" stroke="#000" stroke-width="1.2" opacity="1"/>
<line x1="160.83" y1="741.35" x2="168.53" y2="741.35" stroke="#000" stroke-width="1.2" opacity="1"/>
<line x1="160.83" y1="743.78" x2="168.53" y2="743.78" stroke="#000" stroke-width="1.2" opacity="1"/>
<line x1="160.83" y1="747.88" x2="168.53" y2="747.88" stroke="#000" stroke-width="1.2" opacity="1"/>
<line x1="160.83" y1="751.63" x2="168.53" y2="751.63" stroke="#000" stroke-width="1.2" opacity="1"/>
<line x1="160.83" y1="753.85" x2="168.53" y2="753.85" stroke="#000" stroke-width="1.2" opacity="1"/>
<line x1="164.68" y1="710.75" x2="164.68" y2="714.1" stroke="#000" stroke-width="0.9" opacity="0.3"/>
<rect x="160.83" y="755.5" width="7.7" height="35" rx="1.6" fill="#000"/>
<line x1="161.33" y1="776.5" x2="168.03" y2="776.5" stroke="#fff" stroke-width="0.9" opacity="0.45"/>
<rect x="160.83" y="874.2" width="7.7" height="42.3" rx="1.6" fill="#000"/>
<line x1="161.33" y1="913.5" x2="168.03" y2="913.5" stroke="#fff" stroke-width="0.9" opacity="0.45"/>
<line x1="164.68" y1="916.5" x2="164.68" y2="919.85" stroke="#000" stroke-width="0.9" opacity="0.3"/>
<line x1="164.68" y1="821.5" x2="164.68" y2="790" class="wh"/>
<line x1="161.86" y1="790" x2="167.5" y2="790" class="bx"/>
<line x1="164.68" y1="873" x2="164.68" y2="843.2" class="wh"/>
<line x1="161.86" y1="873" x2="167.5" y2="873" class="bx"/>
<rect x="159.03" y="821.5" width="11.3" height="21.7" class="bx"/>
<line x1="159.03" y1="832" x2="170.33" y2="832" class="bx"/>
<rect x="183.59" y="715.8" width="7.7" height="26.7" rx="1" fill="#000" opacity="0.88"/>
<line x1="187.44" y1="715.8" x2="187.44" y2="742.5" stroke="#000" stroke-width="1" opacity="0.3"/>
<line x1="184.09" y1="719" x2="190.79" y2="719" stroke="#fff" stroke-width="0.9" opacity="0.45"/>
<line x1="184.09" y1="722.5" x2="190.79" y2="722.5" stroke="#fff" stroke-width="0.9" opacity="0.45"/>
<line x1="184.09" y1="727" x2="190.79" y2="727" stroke="#fff" stroke-width="0.9" opacity="0.45"/>
<line x1="184.09" y1="731" x2="190.79" y2="731" stroke="#fff" stroke-width="0.9" opacity="0.45"/>
<line x1="184.09" y1="735" x2="190.79" y2="735" stroke="#fff" stroke-width="0.9" opacity="0.45"/>
<line x1="187.44" y1="712.45" x2="187.44" y2="715.8" stroke="#000" stroke-width="0.9" opacity="0.3"/>
<rect x="183.59" y="845.5" width="7.7" height="21.5" rx="1.6" fill="#000"/>
<line x1="184.09" y1="862.5" x2="190.79" y2="862.5" stroke="#fff" stroke-width="0.9" opacity="0.45"/>
<line x1="184.09" y1="864.8" x2="190.79" y2="864.8" stroke="#fff" stroke-width="0.9" opacity="0.45"/>
<use href="#m" x="187.44" y="869" opacity="0.32"/>
<line x1="187.44" y1="780.2" x2="187.44" y2="742" class="wh"/>
<line x1="184.61" y1="742" x2="190.26" y2="742" class="bx"/>
<line x1="187.44" y1="845.5" x2="187.44" y2="807" class="wh"/>
<line x1="184.61" y1="845.5" x2="190.26" y2="845.5" class="bx"/>
<rect x="181.79" y="780.2" width="11.3" height="26.8" class="bx"/>
<line x1="181.79" y1="792.8" x2="193.09" y2="792.8" class="bx"/>
<rect x="206.35" y="758.8" width="7.7" height="16.2" rx="1" fill="#000" opacity="0.6"/>
<line x1="210.2" y1="758.8" x2="210.2" y2="775" stroke="#000" stroke-width="1" opacity="0.3"/>
<line x1="206.35" y1="760.94" x2="214.05" y2="760.94" stroke="#000" stroke-width="1.2" opacity="0.9"/>
<line x1="206.35" y1="763.31" x2="214.05" y2="763.31" stroke="#000" stroke-width="1.2" opacity="0.9"/>
<line x1="206.35" y1="766.4" x2="214.05" y2="766.4" stroke="#000" stroke-width="1.2" opacity="0.9"/>
<line x1="206.35" y1="768.89" x2="214.05" y2="768.89" stroke="#000" stroke-width="1.2" opacity="0.9"/>
<line x1="206.35" y1="771.31" x2="214.05" y2="771.31" stroke="#000" stroke-width="1.2" opacity="0.9"/>
<line x1="206.35" y1="773.46" x2="214.05" y2="773.46" stroke="#000" stroke-width="1.2" opacity="0.9"/>
<line x1="210.2" y1="755.45" x2="210.2" y2="758.8" stroke="#000" stroke-width="0.9" opacity="0.3"/>
<rect x="206.35" y="774" width="7.7" height="19.8" rx="1.6" fill="#000"/>
<rect x="206.35" y="853.2" width="7.7" height="9.3" rx="1.6" fill="#000"/>
<rect x="206.35" y="861.5" width="7.7" height="19.5" rx="1" fill="#000" opacity="0.6"/>
<line x1="210.2" y1="861.5" x2="210.2" y2="881" stroke="#000" stroke-width="1" opacity="0.3"/>
<line x1="206.35" y1="863.86" x2="214.05" y2="863.86" stroke="#000" stroke-width="1.2" opacity="0.9"/>
<line x1="206.35" y1="866.68" x2="214.05" y2="866.68" stroke="#000" stroke-width="1.2" opacity="0.9"/>
<line x1="206.35" y1="869.7" x2="214.05" y2="869.7" stroke="#000" stroke-width="1.2" opacity="0.9"/>
<line x1="206.35" y1="871.86" x2="214.05" y2="871.86" stroke="#000" stroke-width="1.2" opacity="0.9"/>
<line x1="206.35" y1="875.56" x2="214.05" y2="875.56" stroke="#000" stroke-width="1.2" opacity="0.9"/>
<line x1="206.35" y1="879.7" x2="214.05" y2="879.7" stroke="#000" stroke-width="1.2" opacity="0.9"/>
<line x1="210.2" y1="881" x2="210.2" y2="884.35" stroke="#000" stroke-width="0.9" opacity="0.3"/>
<line x1="210.2" y1="815.7" x2="210.2" y2="793.3" class="wh"/>
<line x1="207.37" y1="793.3" x2="213.02" y2="793.3" class="bx"/>
<line x1="210.2" y1="853.3" x2="210.2" y2="831.3" class="wh"/>
<line x1="207.37" y1="853.3" x2="213.02" y2="853.3" class="bx"/>
<rect x="204.55" y="815.7" width="11.3" height="15.6" class="bx"/>
<line x1="204.55" y1="823.4" x2="215.85" y2="823.4" class="bx"/>
<use href="#m" x="232.96" y="748" opacity="0.32"/>
<use href="#m" x="232.96" y="754.2" opacity="0.32"/>
<use href="#m" x="232.96" y="760" opacity="0.32"/>
<use href="#m" x="232.96" y="764.3" opacity="0.32"/>
<use href="#m" x="232.96" y="768.7" opacity="0.32"/>
<use href="#m" x="232.96" y="885" opacity="0.32"/>
<use href="#m" x="232.96" y="886.7" opacity="0.32"/>
<use href="#m" x="232.96" y="888.5" opacity="0.32"/>
<line x1="232.96" y1="808.9" x2="232.96" y2="773" class="wh"/>
<line x1="230.13" y1="773" x2="235.78" y2="773" class="bx"/>
<line x1="232.96" y1="869.7" x2="232.96" y2="834.2" class="wh"/>
<line x1="230.13" y1="869.7" x2="235.78" y2="869.7" class="bx"/>
<rect x="227.31" y="808.9" width="11.3" height="25.3" class="bx"/>
<line x1="227.31" y1="830.2" x2="238.61" y2="830.2" class="bx"/>
<use href="#m" x="255.72" y="748" opacity="0.32"/>
<use href="#m" x="255.72" y="752.6" opacity="0.7"/>
<line x1="255.72" y1="808.9" x2="255.72" y2="754.9" class="wh"/>
<line x1="252.89" y1="754.9" x2="258.54" y2="754.9" class="bx"/>
<line x1="255.72" y1="889.6" x2="255.72" y2="848.7" class="wh"/>
<line x1="252.89" y1="889.6" x2="258.54" y2="889.6" class="bx"/>
<rect x="250.07" y="808.9" width="11.3" height="39.8" class="bx"/>
<line x1="250.07" y1="829" x2="261.36" y2="829" class="bx"/>
<use href="#m" x="301.23" y="752.3" opacity="0.7"/>
<line x1="301.23" y1="808.9" x2="301.23" y2="754.6" class="wh"/>
<line x1="298.41" y1="754.6" x2="304.06" y2="754.6" class="bx"/>
<line x1="301.23" y1="888.9" x2="301.23" y2="849.3" class="wh"/>
<line x1="298.41" y1="888.9" x2="304.06" y2="888.9" class="bx"/>
<rect x="295.59" y="808.9" width="11.3" height="40.4" class="bx"/>
<line x1="295.59" y1="829" x2="306.88" y2="829" class="bx"/>
<use href="#m" x="461.79" y="851.5" opacity="0.8"/>
<use href="#m" x="461.79" y="982" opacity="0.32"/>
<use href="#m" x="461.79" y="984.5" opacity="0.32"/>
<use href="#m" x="461.79" y="987" opacity="0.32"/>
<line x1="461.79" y1="902.6" x2="461.79" y2="860.5" class="wh"/>
<line x1="458.96" y1="860.5" x2="464.61" y2="860.5" class="bx"/>
<line x1="461.79" y1="979.2" x2="461.79" y2="932.7" class="wh"/>
<line x1="458.96" y1="979.2" x2="464.61" y2="979.2" class="bx"/>
<rect x="456.14" y="902.6" width="11.3" height="30.1" class="bx"/>
<line x1="456.14" y1="918.5" x2="467.44" y2="918.5" class="bx"/>
<use href="#m" x="484.55" y="806" opacity="0.32"/>
<use href="#m" x="484.55" y="808" opacity="0.32"/>
<use href="#m" x="484.55" y="810" opacity="0.32"/>
<use href="#m" x="484.55" y="812" opacity="0.32"/>
<use href="#m" x="484.55" y="1003.5" opacity="0.32"/>
<use href="#m" x="484.55" y="1005.5" opacity="0.32"/>
<use href="#m" x="484.55" y="1007.5" opacity="0.32"/>
<use href="#m" x="484.55" y="1009.5" opacity="0.32"/>
<use href="#m" x="484.55" y="1011.5" opacity="0.32"/>
<use href="#m" x="484.55" y="1013" opacity="0.32"/>
<line x1="484.55" y1="886.2" x2="484.55" y2="816.5" class="wh"/>
<line x1="481.72" y1="816.5" x2="487.37" y2="816.5" class="bx"/>
<line x1="484.55" y1="1001.9" x2="484.55" y2="932.2" class="wh"/>
<line x1="481.72" y1="1001.9" x2="487.37" y2="1001.9" class="bx"/>
<rect x="478.9" y="886.2" width="11.3" height="46" class="bx"/>
<line x1="478.9" y1="909.5" x2="490.2" y2="909.5" class="bx"/>
<use href="#m" x="530.07" y="846.5" opacity="0.32"/>
<line x1="530.07" y1="943.6" x2="530.07" y2="848.8" class="wh"/>
<line x1="527.24" y1="848.8" x2="532.89" y2="848.8" class="bx"/>
<line x1="530.07" y1="1075.1" x2="530.07" y2="1006.5" class="wh"/>
<line x1="527.24" y1="1075.1" x2="532.89" y2="1075.1" class="bx"/>
<rect x="524.42" y="943.6" width="11.3" height="62.9" class="bx"/>
<line x1="524.42" y1="973.7" x2="535.71" y2="973.7" class="bx"/>
<use href="#m" x="576" y="849.5" opacity="0.32"/>
<use href="#m" x="576" y="851.5" opacity="0.32"/>
<use href="#m" x="576" y="853.5" opacity="0.32"/>
<line x1="576" y1="962.2" x2="576" y2="855.6" class="wh"/>
<line x1="573.17" y1="855.6" x2="578.82" y2="855.6" class="bx"/>
<line x1="576" y1="1109" x2="576" y2="1033.3" class="wh"/>
<line x1="573.17" y1="1109" x2="578.82" y2="1109" class="bx"/>
<rect x="570.35" y="962.2" width="11.3" height="71.1" class="bx"/>
<line x1="570.35" y1="999.4" x2="581.65" y2="999.4" class="bx"/>
<rect x="663.27" y="923.2" width="7.7" height="45.8" rx="1.6" fill="#000"/>
<line x1="663.77" y1="927.5" x2="670.47" y2="927.5" stroke="#fff" stroke-width="0.9" opacity="0.45"/>
<line x1="663.77" y1="930" x2="670.47" y2="930" stroke="#fff" stroke-width="0.9" opacity="0.45"/>
<line x1="663.77" y1="938" x2="670.47" y2="938" stroke="#fff" stroke-width="0.9" opacity="0.45"/>
<line x1="663.77" y1="942.5" x2="670.47" y2="942.5" stroke="#fff" stroke-width="0.9" opacity="0.45"/>
<line x1="663.77" y1="955.5" x2="670.47" y2="955.5" stroke="#fff" stroke-width="0.9" opacity="0.45"/>
<line x1="667.12" y1="919.85" x2="667.12" y2="923.2" stroke="#000" stroke-width="0.9" opacity="0.3"/>
<rect x="663.27" y="1060.8" width="7.7" height="26.5" rx="1.6" fill="#000"/>
<line x1="663.77" y1="1083.5" x2="670.47" y2="1083.5" stroke="#fff" stroke-width="0.9" opacity="0.45"/>
<use href="#m" x="667.12" y="1088.5" opacity="0.32"/>
<use href="#m" x="667.12" y="1090.5" opacity="0.32"/>
<use href="#m" x="667.12" y="1092.5" opacity="0.32"/>
<use href="#m" x="667.12" y="1094" opacity="0.32"/>
<line x1="667.12" y1="1003" x2="667.12" y2="968.5" class="wh"/>
<line x1="664.29" y1="968.5" x2="669.94" y2="968.5" class="bx"/>
<line x1="667.12" y1="1061" x2="667.12" y2="1026.7" class="wh"/>
<line x1="664.29" y1="1061" x2="669.94" y2="1061" class="bx"/>
<rect x="661.47" y="1003" width="11.3" height="23.7" class="bx"/>
<line x1="661.47" y1="1010" x2="672.76" y2="1010" class="bx"/>
<rect x="800.23" y="994.2" width="7.7" height="19.6" rx="1.6" fill="#000"/>
<line x1="800.73" y1="1006" x2="807.43" y2="1006" stroke="#fff" stroke-width="0.9" opacity="0.45"/>
<line x1="804.08" y1="990.85" x2="804.08" y2="994.2" stroke="#000" stroke-width="0.9" opacity="0.3"/>
<line x1="804.08" y1="1050.7" x2="804.08" y2="1013.3" class="wh"/>
<line x1="801.26" y1="1013.3" x2="806.91" y2="1013.3" class="bx"/>
<line x1="804.08" y1="1113.6" x2="804.08" y2="1076.1" class="wh"/>
<line x1="801.26" y1="1113.6" x2="806.91" y2="1113.6" class="bx"/>
<rect x="798.44" y="1050.7" width="11.3" height="25.4" class="bx"/>
<line x1="798.44" y1="1064.6" x2="809.73" y2="1064.6" class="bx"/>
<rect x="891.6" y="965.7" width="7.7" height="32.1" rx="1.6" fill="#000"/>
<line x1="892.1" y1="969" x2="898.8" y2="969" stroke="#fff" stroke-width="0.9" opacity="0.45"/>
<line x1="892.1" y1="985.5" x2="898.8" y2="985.5" stroke="#fff" stroke-width="0.9" opacity="0.45"/>
<line x1="895.45" y1="962.35" x2="895.45" y2="965.7" stroke="#000" stroke-width="0.9" opacity="0.3"/>
<line x1="895.45" y1="1048" x2="895.45" y2="997.3" class="wh"/>
<line x1="892.63" y1="997.3" x2="898.27" y2="997.3" class="bx"/>
<line x1="895.45" y1="1120.5" x2="895.45" y2="1082.7" class="wh"/>
<line x1="892.63" y1="1120.5" x2="898.27" y2="1120.5" class="bx"/>
<rect x="889.8" y="1048" width="11.3" height="34.7" class="bx"/>
<line x1="889.8" y1="1068.3" x2="901.1" y2="1068.3" class="bx"/>
<path d="M330.2 1123.9v-9M330.2 708.3v9M537.1 1123.9v-9M537.1 708.3v9M744 1123.9v-9M744 708.3v9M123.3 1054.6h9M950.9 1054.6h-9M123.3 962.08h9M950.9 962.08h-9M123.3 869.56h9M950.9 869.56h-9M123.3 777.04h9M950.9 777.04h-9" class="ax"/>
<rect x="123.3" y="708.3" width="827.6" height="415.6" class="ax"/>
<text transform="translate(123.3 1177.9) scale(1 1.04)" class="tk" text-anchor="middle">0</text>
<text transform="translate(330.2 1177.9) scale(1 1.04)" class="tk" text-anchor="middle">0.5</text>
<text transform="translate(537.1 1177.9) scale(1 1.04)" class="tk" text-anchor="middle">1</text>
<text transform="translate(744 1177.9) scale(1 1.04)" class="tk" text-anchor="middle">1.5</text>
<text transform="translate(950.9 1177.9) scale(1 1.04)" class="tk" text-anchor="middle">2</text>
<text transform="translate(107.8 1069.8) scale(1 1.04)" class="tk" text-anchor="end">0.6</text>
<text transform="translate(107.8 977.28) scale(1 1.04)" class="tk" text-anchor="end">0.8</text>
<text transform="translate(107.8 884.76) scale(1 1.04)" class="tk" text-anchor="end">1</text>
<text transform="translate(107.8 792.24) scale(1 1.04)" class="tk" text-anchor="end">1.2</text>
<text transform="translate(537.1 1232.1) scale(1 1.04)" class="lb" text-anchor="middle">Cell velocity (m/s)</text>
<text transform="translate(33.6 915.3) rotate(-90) scale(1 1.04)" class="lb" text-anchor="middle">Time ratio</text>
<text x="28" y="680" class="tt">C)</text>
</g>
<g>
<line x1="1178" y1="919.2" x2="1973.6" y2="919.2" stroke="#000" stroke-width="3.2" stroke-dasharray="14 14.75"/>
<rect x="1213.93" y="871.4" width="7.7" height="6.1" rx="1" fill="#000" opacity="0.45"/>
<line x1="1217.78" y1="871.4" x2="1217.78" y2="877.5" stroke="#000" stroke-width="1" opacity="0.3"/>
<line x1="1213.93" y1="873.29" x2="1221.63" y2="873.29" stroke="#000" stroke-width="1.2" opacity="0.6"/>
<line x1="1213.93" y1="875.32" x2="1221.63" y2="875.32" stroke="#000" stroke-width="1.2" opacity="0.6"/>
<line x1="1217.78" y1="868.05" x2="1217.78" y2="871.4" stroke="#000" stroke-width="0.9" opacity="0.3"/>
<rect x="1213.93" y="876.5" width="7.7" height="55" rx="1" fill="#000" opacity="0.95"/>
<line x1="1217.78" y1="876.5" x2="1217.78" y2="931.5" stroke="#000" stroke-width="1" opacity="0.3"/>
<line x1="1214.43" y1="886" x2="1221.13" y2="886" stroke="#fff" stroke-width="0.9" opacity="0.45"/>
<line x1="1214.43" y1="893" x2="1221.13" y2="893" stroke="#fff" stroke-width="0.9" opacity="0.45"/>
<line x1="1214.43" y1="900" x2="1221.13" y2="900" stroke="#fff" stroke-width="0.9" opacity="0.45"/>
<line x1="1214.43" y1="907" x2="1221.13" y2="907" stroke="#fff" stroke-width="0.9" opacity="0.45"/>
<line x1="1214.43" y1="913" x2="1221.13" y2="913" stroke="#fff" stroke-width="0.9" opacity="0.45"/>
<line x1="1214.43" y1="921" x2="1221.13" y2="921" stroke="#fff" stroke-width="0.9" opacity="0.45"/>
<rect x="1213.93" y="1071.2" width="7.7" height="28.1" rx="1" fill="#000" opacity="0.93"/>
<line x1="1217.78" y1="1071.2" x2="1217.78" y2="1099.3" stroke="#000" stroke-width="1" opacity="0.3"/>
<line x1="1214.43" y1="1077" x2="1221.13" y2="1077" stroke="#fff" stroke-width="0.9" opacity="0.45"/>
<line x1="1214.43" y1="1082" x2="1221.13" y2="1082" stroke="#fff" stroke-width="0.9" opacity="0.45"/>
<line x1="1214.43" y1="1088" x2="1221.13" y2="1088" stroke="#fff" stroke-width="0.9" opacity="0.45"/>
<line x1="1214.43" y1="1093" x2="1221.13" y2="1093" stroke="#fff" stroke-width="0.9" opacity="0.45"/>
<line x1="1217.78" y1="1099.3" x2="1217.78" y2="1102.65" stroke="#000" stroke-width="0.9" opacity="0.3"/>
<line x1="1217.78" y1="984.2" x2="1217.78" y2="931" class="wh"/>
<line x1="1215.07" y1="931" x2="1220.49" y2="931" class="bx"/>
<line x1="1217.78" y1="1071.5" x2="1217.78" y2="1019.1" class="wh"/>
<line x1="1215.07" y1="1071.5" x2="1220.49" y2="1071.5" class="bx"/>
<rect x="1212.35" y="984.2" width="10.86" height="34.9" class="bx"/>
<line x1="1212.35" y1="1002.6" x2="1223.21" y2="1002.6" class="bx"/>
<rect x="1235.81" y="922.1" width="7.7" height="10.4" rx="1" fill="#000" opacity="0.55"/>
<line x1="1239.66" y1="922.1" x2="1239.66" y2="932.5" stroke="#000" stroke-width="1" opacity="0.3"/>
<line x1="1235.81" y1="924.04" x2="1243.51" y2="924.04" stroke="#000" stroke-width="1.2" opacity="0.9"/>
<line x1="1235.81" y1="926.09" x2="1243.51" y2="926.09" stroke="#000" stroke-width="1.2" opacity="0.9"/>
<line x1="1235.81" y1="927.97" x2="1243.51" y2="927.97" stroke="#000" stroke-width="1.2" opacity="0.9"/>
<line x1="1235.81" y1="931.01" x2="1243.51" y2="931.01" stroke="#000" stroke-width="1.2" opacity="0.9"/>
<line x1="1239.66" y1="918.75" x2="1239.66" y2="922.1" stroke="#000" stroke-width="0.9" opacity="0.3"/>
<rect x="1235.81" y="931.5" width="7.7" height="10" rx="1.6" fill="#000"/>
<rect x="1235.81" y="1063.6" width="7.7" height="10.9" rx="1" fill="#000" opacity="0.92"/>
<line x1="1239.66" y1="1063.6" x2="1239.66" y2="1074.5" stroke="#000" stroke-width="1" opacity="0.3"/>
<line x1="1236.31" y1="1067.5" x2="1243.01" y2="1067.5" stroke="#fff" stroke-width="0.9" opacity="0.45"/>
<line x1="1236.31" y1="1070.5" x2="1243.01" y2="1070.5" stroke="#fff" stroke-width="0.9" opacity="0.45"/>
<line x1="1239.66" y1="1074.5" x2="1239.66" y2="1077.85" stroke="#000" stroke-width="0.9" opacity="0.3"/>
<line x1="1239.66" y1="987.7" x2="1239.66" y2="941" class="wh"/>
<line x1="1236.94" y1="941" x2="1242.37" y2="941" class="bx"/>
<line x1="1239.66" y1="1064" x2="1239.66" y2="1018.5" class="wh"/>
<line x1="1236.94" y1="1064" x2="1242.37" y2="1064" class="bx"/>
<rect x="1234.23" y="987.7" width="10.86" height="30.8" class="bx"/>
<line x1="1234.23" y1="1002.9" x2="1245.09" y2="1002.9" class="bx"/>
<rect x="1257.69" y="904.7" width="7.7" height="26.3" rx="1" fill="#000" opacity="0.88"/>
<line x1="1261.54" y1="904.7" x2="1261.54" y2="931" stroke="#000" stroke-width="1" opacity="0.3"/>
<line x1="1258.19" y1="909" x2="1264.89" y2="909" stroke="#fff" stroke-width="0.9" opacity="0.45"/>
<line x1="1258.19" y1="913" x2="1264.89" y2="913" stroke="#fff" stroke-width="0.9" opacity="0.45"/>
<line x1="1258.19" y1="916.5" x2="1264.89" y2="916.5" stroke="#fff" stroke-width="0.9" opacity="0.45"/>
<line x1="1258.19" y1="919.5" x2="1264.89" y2="919.5" stroke="#fff" stroke-width="0.9" opacity="0.45"/>
<line x1="1258.19" y1="925" x2="1264.89" y2="925" stroke="#fff" stroke-width="0.9" opacity="0.45"/>
<line x1="1261.54" y1="901.35" x2="1261.54" y2="904.7" stroke="#000" stroke-width="0.9" opacity="0.3"/>
<rect x="1257.69" y="1061.5" width="7.7" height="8.5" rx="1" fill="#000" opacity="0.88"/>
<line x1="1261.54" y1="1061.5" x2="1261.54" y2="1070" stroke="#000" stroke-width="1" opacity="0.3"/>
<line x1="1258.19" y1="1065.5" x2="1264.89" y2="1065.5" stroke="#fff" stroke-width="0.9" opacity="0.45"/>
<line x1="1261.54" y1="1070" x2="1261.54" y2="1073.35" stroke="#000" stroke-width="0.9" opacity="0.3"/>
<line x1="1261.54" y1="979.4" x2="1261.54" y2="930.5" class="wh"/>
<line x1="1258.82" y1="930.5" x2="1264.25" y2="930.5" class="bx"/>
<line x1="1261.54" y1="1061.9" x2="1261.54" y2="1012.6" class="wh"/>
<line x1="1258.82" y1="1061.9" x2="1264.25" y2="1061.9" class="bx"/>
<rect x="1256.11" y="979.4" width="10.86" height="33.2" class="bx"/>
<line x1="1256.11" y1="995.7" x2="1266.97" y2="995.7" class="bx"/>
<use href="#m" x="1283.42" y="1100.3" opacity="0.32"/>
<use href="#m" x="1283.42" y="1103.3" opacity="0.32"/>
<line x1="1283.42" y1="996.8" x2="1283.42" y2="934.9" class="wh"/>
<line x1="1280.7" y1="934.9" x2="1286.13" y2="934.9" class="bx"/>
<line x1="1283.42" y1="1097.7" x2="1283.42" y2="1038" class="wh"/>
<line x1="1280.7" y1="1097.7" x2="1286.13" y2="1097.7" class="bx"/>
<rect x="1277.99" y="996.8" width="10.86" height="41.2" class="bx"/>
<line x1="1277.99" y1="1017.8" x2="1288.85" y2="1017.8" class="bx"/>
<use href="#m" x="1305.3" y="1097.3" opacity="0.32"/>
<use href="#m" x="1305.3" y="1100.3" opacity="0.32"/>
<use href="#m" x="1305.3" y="1103.5" opacity="0.32"/>
<line x1="1305.3" y1="995" x2="1305.3" y2="936" class="wh"/>
<line x1="1302.58" y1="936" x2="1308.01" y2="936" class="bx"/>
<line x1="1305.3" y1="1094.5" x2="1305.3" y2="1035.4" class="wh"/>
<line x1="1302.58" y1="1094.5" x2="1308.01" y2="1094.5" class="bx"/>
<rect x="1299.87" y="995" width="10.86" height="40.4" class="bx"/>
<line x1="1299.87" y1="1015.7" x2="1310.73" y2="1015.7" class="bx"/>
<rect x="1345.2" y="898.1" width="7.7" height="4.1" rx="1.6" fill="#000"/>
<line x1="1349.05" y1="894.75" x2="1349.05" y2="898.1" stroke="#000" stroke-width="0.9" opacity="0.3"/>
<use href="#m" x="1349.05" y="1099.5" opacity="0.32"/>
<use href="#m" x="1349.05" y="1102.5" opacity="0.32"/>
<use href="#m" x="1349.05" y="1105.5" opacity="0.32"/>
<use href="#m" x="1349.05" y="1108.5" opacity="0.32"/>
<use href="#m" x="1349.05" y="1111.5" opacity="0.32"/>
<use href="#m" x="1349.05" y="1114.5" opacity="0.32"/>
<use href="#m" x="1349.05" y="1117.5" opacity="0.32"/>
<use href="#m" x="1349.05" y="1120.5" opacity="0.32"/>
<line x1="1349.05" y1="994" x2="1349.05" y2="936" class="wh"/>
<line x1="1346.34" y1="936" x2="1351.77" y2="936" class="bx"/>
<line x1="1349.05" y1="1096.6" x2="1349.05" y2="1035" class="wh"/>
<line x1="1346.34" y1="1096.6" x2="1351.77" y2="1096.6" class="bx"/>
<rect x="1343.62" y="994" width="10.86" height="41" class="bx"/>
<line x1="1343.62" y1="1015.7" x2="1354.48" y2="1015.7" class="bx"/>
<rect x="1499.55" y="788.1" width="7.7" height="45.1" rx="1" fill="#000" opacity="0.5"/>
<line x1="1503.4" y1="788.1" x2="1503.4" y2="833.2" stroke="#000" stroke-width="1" opacity="0.3"/>
<line x1="1499.55" y1="790.9" x2="1507.25" y2="790.9" stroke="#000" stroke-width="1.2" opacity="0.7"/>
<line x1="1499.55" y1="793.77" x2="1507.25" y2="793.77" stroke="#000" stroke-width="1.2" opacity="0.7"/>
<line x1="1499.55" y1="797.04" x2="1507.25" y2="797.04" stroke="#000" stroke-width="1.2" opacity="0.7"/>
<line x1="1499.55" y1="799.12" x2="1507.25" y2="799.12" stroke="#000" stroke-width="1.2" opacity="0.7"/>
<line x1="1499.55" y1="803.32" x2="1507.25" y2="803.32" stroke="#000" stroke-width="1.2" opacity="0.7"/>
<line x1="1499.55" y1="805.31" x2="1507.25" y2="805.31" stroke="#000" stroke-width="1.2" opacity="0.7"/>
<line x1="1499.55" y1="808.98" x2="1507.25" y2="808.98" stroke="#000" stroke-width="1.2" opacity="0.7"/>
<line x1="1499.55" y1="811.86" x2="1507.25" y2="811.86" stroke="#000" stroke-width="1.2" opacity="0.7"/>
<line x1="1499.55" y1="815.18" x2="1507.25" y2="815.18" stroke="#000" stroke-width="1.2" opacity="0.7"/>
<line x1="1499.55" y1="819.07" x2="1507.25" y2="819.07" stroke="#000" stroke-width="1.2" opacity="0.7"/>
<line x1="1499.55" y1="822" x2="1507.25" y2="822" stroke="#000" stroke-width="1.2" opacity="0.7"/>
<line x1="1499.55" y1="824.13" x2="1507.25" y2="824.13" stroke="#000" stroke-width="1.2" opacity="0.7"/>
<line x1="1499.55" y1="828.14" x2="1507.25" y2="828.14" stroke="#000" stroke-width="1.2" opacity="0.7"/>
<line x1="1499.55" y1="830.59" x2="1507.25" y2="830.59" stroke="#000" stroke-width="1.2" opacity="0.7"/>
<line x1="1500.05" y1="799" x2="1506.75" y2="799" stroke="#fff" stroke-width="0.9" opacity="0.45"/>
<line x1="1500.05" y1="807" x2="1506.75" y2="807" stroke="#fff" stroke-width="0.9" opacity="0.45"/>
<line x1="1500.05" y1="815" x2="1506.75" y2="815" stroke="#fff" stroke-width="0.9" opacity="0.45"/>
<line x1="1500.05" y1="826" x2="1506.75" y2="826" stroke="#fff" stroke-width="0.9" opacity="0.45"/>
<line x1="1503.4" y1="784.75" x2="1503.4" y2="788.1" stroke="#000" stroke-width="0.9" opacity="0.3"/>
<rect x="1499.55" y="1040.5" width="7.7" height="31.8" rx="1" fill="#000" opacity="0.45"/>
<line x1="1503.4" y1="1040.5" x2="1503.4" y2="1072.3" stroke="#000" stroke-width="1" opacity="0.3"/>
<line x1="1499.55" y1="1042.76" x2="1507.25" y2="1042.76" stroke="#000" stroke-width="1.2" opacity="0.7"/>
<line x1="1499.55" y1="1046.14" x2="1507.25" y2="1046.14" stroke="#000" stroke-width="1.2" opacity="0.7"/>
<line x1="1499.55" y1="1048.11" x2="1507.25" y2="1048.11" stroke="#000" stroke-width="1.2" opacity="0.7"/>
<line x1="1499.55" y1="1052.26" x2="1507.25" y2="1052.26" stroke="#000" stroke-width="1.2" opacity="0.7"/>
<line x1="1499.55" y1="1054.81" x2="1507.25" y2="1054.81" stroke="#000" stroke-width="1.2" opacity="0.7"/>
<line x1="1499.55" y1="1057.18" x2="1507.25" y2="1057.18" stroke="#000" stroke-width="1.2" opacity="0.7"/>
<line x1="1499.55" y1="1061.12" x2="1507.25" y2="1061.12" stroke="#000" stroke-width="1.2" opacity="0.7"/>
<line x1="1499.55" y1="1064.09" x2="1507.25" y2="1064.09" stroke="#000" stroke-width="1.2" opacity="0.7"/>
<line x1="1499.55" y1="1067.6" x2="1507.25" y2="1067.6" stroke="#000" stroke-width="1.2" opacity="0.7"/>
<line x1="1499.55" y1="1070.35" x2="1507.25" y2="1070.35" stroke="#000" stroke-width="1.2" opacity="0.7"/>
<line x1="1503.4" y1="1072.3" x2="1503.4" y2="1075.65" stroke="#000" stroke-width="0.9" opacity="0.3"/>
<line x1="1503.4" y1="910.7" x2="1503.4" y2="832.7" class="wh"/>
<line x1="1500.69" y1="832.7" x2="1506.12" y2="832.7" class="bx"/>
<line x1="1503.4" y1="1040.4" x2="1503.4" y2="962.6" class="wh"/>
<line x1="1500.69" y1="1040.4" x2="1506.12" y2="1040.4" class="bx"/>
<rect x="1497.97" y="910.7" width="10.86" height="51.9" class="bx"/>
<line x1="1497.97" y1="935.8" x2="1508.83" y2="935.8" class="bx"/>
<rect x="1521.43" y="779.6" width="7.7" height="44.6" rx="1" fill="#000" opacity="0.5"/>
<line x1="1525.28" y1="779.6" x2="1525.28" y2="824.2" stroke="#000" stroke-width="1" opacity="0.3"/>
<line x1="1521.43" y1="781.19" x2="1529.13" y2="781.19" stroke="#000" stroke-width="1.2" opacity="0.7"/>
<line x1="1521.43" y1="785.49" x2="1529.13" y2="785.49" stroke="#000" stroke-width="1.2" opacity="0.7"/>
<line x1="1521.43" y1="787.23" x2="1529.13" y2="787.23" stroke="#000" stroke-width="1.2" opacity="0.7"/>
<line x1="1521.43" y1="791.77" x2="1529.13" y2="791.77" stroke="#000" stroke-width="1.2" opacity="0.7"/>
<line x1="1521.43" y1="793.05" x2="1529.13" y2="793.05" stroke="#000" stroke-width="1.2" opacity="0.7"/>
<line x1="1521.43" y1="798.13" x2="1529.13" y2="798.13" stroke="#000" stroke-width="1.2" opacity="0.7"/>
<line x1="1521.43" y1="801.28" x2="1529.13" y2="801.28" stroke="#000" stroke-width="1.2" opacity="0.7"/>
<line x1="1521.43" y1="803.92" x2="1529.13" y2="803.92" stroke="#000" stroke-width="1.2" opacity="0.7"/>
<line x1="1521.43" y1="807.34" x2="1529.13" y2="807.34" stroke="#000" stroke-width="1.2" opacity="0.7"/>
<line x1="1521.43" y1="809.98" x2="1529.13" y2="809.98" stroke="#000" stroke-width="1.2" opacity="0.7"/>
<line x1="1521.43" y1="813.23" x2="1529.13" y2="813.23" stroke="#000" stroke-width="1.2" opacity="0.7"/>
<line x1="1521.43" y1="815.97" x2="1529.13" y2="815.97" stroke="#000" stroke-width="1.2" opacity="0.7"/>
<line x1="1521.43" y1="819.02" x2="1529.13" y2="819.02" stroke="#000" stroke-width="1.2" opacity="0.7"/>
<line x1="1521.43" y1="823.17" x2="1529.13" y2="823.17" stroke="#000" stroke-width="1.2" opacity="0.7"/>
<line x1="1521.93" y1="788" x2="1528.63" y2="788" stroke="#fff" stroke-width="0.9" opacity="0.45"/>
<line x1="1521.93" y1="797" x2="1528.63" y2="797" stroke="#fff" stroke-width="0.9" opacity="0.45"/>
<line x1="1521.93" y1="806" x2="1528.63" y2="806" stroke="#fff" stroke-width="0.9" opacity="0.45"/>
<line x1="1521.93" y1="814" x2="1528.63" y2="814" stroke="#fff" stroke-width="0.9" opacity="0.45"/>
<line x1="1525.28" y1="776.25" x2="1525.28" y2="779.6" stroke="#000" stroke-width="0.9" opacity="0.3"/>
<rect x="1521.43" y="1057" width="7.7" height="38" rx="1" fill="#000" opacity="0.45"/>
<line x1="1525.28" y1="1057" x2="1525.28" y2="1095" stroke="#000" stroke-width="1" opacity="0.3"/>
<line x1="1521.43" y1="1059.66" x2="1529.13" y2="1059.66" stroke="#000" stroke-width="1.2" opacity="0.7"/>
<line x1="1521.43" y1="1062.47" x2="1529.13" y2="1062.47" stroke="#000" stroke-width="1.2" opacity="0.7"/>
<line x1="1521.43" y1="1064.82" x2="1529.13" y2="1064.82" stroke="#000" stroke-width="1.2" opacity="0.7"/>
<line x1="1521.43" y1="1067.78" x2="1529.13" y2="1067.78" stroke="#000" stroke-width="1.2" opacity="0.7"/>
<line x1="1521.43" y1="1070.78" x2="1529.13" y2="1070.78" stroke="#000" stroke-width="1.2" opacity="0.7"/>
<line x1="1521.43" y1="1073.8" x2="1529.13" y2="1073.8" stroke="#000" stroke-width="1.2" opacity="0.7"/>
<line x1="1521.43" y1="1078.41" x2="1529.13" y2="1078.41" stroke="#000" stroke-width="1.2" opacity="0.7"/>
<line x1="1521.43" y1="1081.23" x2="1529.13" y2="1081.23" stroke="#000" stroke-width="1.2" opacity="0.7"/>
<line x1="1521.43" y1="1083.58" x2="1529.13" y2="1083.58" stroke="#000" stroke-width="1.2" opacity="0.7"/>
<line x1="1521.43" y1="1086.6" x2="1529.13" y2="1086.6" stroke="#000" stroke-width="1.2" opacity="0.7"/>
<line x1="1521.43" y1="1090.4" x2="1529.13" y2="1090.4" stroke="#000" stroke-width="1.2" opacity="0.7"/>
<line x1="1521.43" y1="1094" x2="1529.13" y2="1094" stroke="#000" stroke-width="1.2" opacity="0.7"/>
<line x1="1525.28" y1="1095" x2="1525.28" y2="1098.35" stroke="#000" stroke-width="0.9" opacity="0.3"/>
<line x1="1525.28" y1="910.7" x2="1525.28" y2="823.7" class="wh"/>
<line x1="1522.56" y1="823.7" x2="1527.99" y2="823.7" class="bx"/>
<line x1="1525.28" y1="1056.8" x2="1525.28" y2="969.9" class="wh"/>
<line x1="1522.56" y1="1056.8" x2="1527.99" y2="1056.8" class="bx"/>
<rect x="1519.85" y="910.7" width="10.86" height="59.2" class="bx"/>
<line x1="1519.85" y1="936.1" x2="1530.71" y2="936.1" class="bx"/>
<use href="#m" x="1569.04" y="756" opacity="0.32"/>
<use href="#m" x="1569.04" y="758.5" opacity="0.32"/>
<use href="#m" x="1569.04" y="761" opacity="0.32"/>
<use href="#m" x="1569.04" y="763" opacity="0.32"/>
<use href="#m" x="1569.04" y="892.5" opacity="0.32"/>
<use href="#m" x="1569.04" y="894.5" opacity="0.32"/>
<use href="#m" x="1569.04" y="896.5" opacity="0.32"/>
<use href="#m" x="1569.04" y="898.5" opacity="0.32"/>
<use href="#m" x="1569.04" y="900" opacity="0.32"/>
<line x1="1569.04" y1="811.5" x2="1569.04" y2="764.6" class="wh"/>
<line x1="1566.32" y1="764.6" x2="1571.75" y2="764.6" class="bx"/>
<line x1="1569.04" y1="891.3" x2="1569.04" y2="843.5" class="wh"/>
<line x1="1566.32" y1="891.3" x2="1571.75" y2="891.3" class="bx"/>
<rect x="1563.61" y="811.5" width="10.86" height="32" class="bx"/>
<line x1="1563.61" y1="825.7" x2="1574.47" y2="825.7" class="bx"/>
<use href="#m" x="1613.19" y="752.5" opacity="0.32"/>
<use href="#m" x="1613.19" y="754.8" opacity="0.32"/>
<use href="#m" x="1613.19" y="757" opacity="0.32"/>
<use href="#m" x="1613.19" y="759" opacity="0.32"/>
<use href="#m" x="1613.19" y="923.5" opacity="0.32"/>
<use href="#m" x="1613.19" y="926" opacity="0.32"/>
<use href="#m" x="1613.19" y="928.5" opacity="0.32"/>
<use href="#m" x="1613.19" y="931" opacity="0.32"/>
<use href="#m" x="1613.19" y="933" opacity="0.32"/>
<line x1="1613.19" y1="821.1" x2="1613.19" y2="760.2" class="wh"/>
<line x1="1610.48" y1="760.2" x2="1615.91" y2="760.2" class="bx"/>
<line x1="1613.19" y1="917.9" x2="1613.19" y2="862.4" class="wh"/>
<line x1="1610.48" y1="917.9" x2="1615.91" y2="917.9" class="bx"/>
<rect x="1607.76" y="821.1" width="10.86" height="41.3" class="bx"/>
<line x1="1607.76" y1="840" x2="1618.62" y2="840" class="bx"/>
<use href="#m" x="1700.79" y="791.8" opacity="0.32"/>
<use href="#m" x="1700.79" y="794" opacity="0.32"/>
<use href="#m" x="1700.79" y="796.2" opacity="0.32"/>
<use href="#m" x="1700.79" y="798.5" opacity="0.32"/>
<rect x="1696.94" y="898" width="7.7" height="13.9" rx="1" fill="#000" opacity="0.7"/>
<line x1="1700.79" y1="898" x2="1700.79" y2="911.9" stroke="#000" stroke-width="1" opacity="0.3"/>
<line x1="1696.94" y1="899.85" x2="1704.64" y2="899.85" stroke="#000" stroke-width="1.2" opacity="0.9"/>
<line x1="1696.94" y1="902.73" x2="1704.64" y2="902.73" stroke="#000" stroke-width="1.2" opacity="0.9"/>
<line x1="1696.94" y1="904.53" x2="1704.64" y2="904.53" stroke="#000" stroke-width="1.2" opacity="0.9"/>
<line x1="1696.94" y1="908.14" x2="1704.64" y2="908.14" stroke="#000" stroke-width="1.2" opacity="0.9"/>
<line x1="1696.94" y1="909.56" x2="1704.64" y2="909.56" stroke="#000" stroke-width="1.2" opacity="0.9"/>
<line x1="1697.44" y1="903" x2="1704.14" y2="903" stroke="#fff" stroke-width="0.9" opacity="0.45"/>
<line x1="1697.44" y1="906.5" x2="1704.14" y2="906.5" stroke="#fff" stroke-width="0.9" opacity="0.45"/>
<line x1="1700.79" y1="911.9" x2="1700.79" y2="915.25" stroke="#000" stroke-width="0.9" opacity="0.3"/>
<line x1="1700.79" y1="836.2" x2="1700.79" y2="799.6" class="wh"/>
<line x1="1698.07" y1="799.6" x2="1703.5" y2="799.6" class="bx"/>
<line x1="1700.79" y1="898" x2="1700.79" y2="860.9" class="wh"/>
<line x1="1698.07" y1="898" x2="1703.5" y2="898" class="bx"/>
<rect x="1695.36" y="836.2" width="10.86" height="24.7" class="bx"/>
<line x1="1695.36" y1="846.7" x2="1706.22" y2="846.7" class="bx"/>
<rect x="1828.61" y="821.2" width="7.7" height="9.3" rx="1" fill="#000" opacity="0.85"/>
<line x1="1832.46" y1="821.2" x2="1832.46" y2="830.5" stroke="#000" stroke-width="1" opacity="0.3"/>
<line x1="1828.61" y1="822.32" x2="1836.31" y2="822.32" stroke="#000" stroke-width="1.2" opacity="0.9"/>
<line x1="1828.61" y1="826.07" x2="1836.31" y2="826.07" stroke="#000" stroke-width="1.2" opacity="0.9"/>
<line x1="1828.61" y1="829.39" x2="1836.31" y2="829.39" stroke="#000" stroke-width="1.2" opacity="0.9"/>
<line x1="1829.11" y1="824.5" x2="1835.81" y2="824.5" stroke="#fff" stroke-width="0.9" opacity="0.45"/>
<line x1="1832.46" y1="817.85" x2="1832.46" y2="821.2" stroke="#000" stroke-width="0.9" opacity="0.3"/>
<rect x="1828.61" y="896.5" width="7.7" height="11.4" rx="1" fill="#000" opacity="0.75"/>
<line x1="1832.46" y1="896.5" x2="1832.46" y2="907.9" stroke="#000" stroke-width="1" opacity="0.3"/>
<line x1="1828.61" y1="897.98" x2="1836.31" y2="897.98" stroke="#000" stroke-width="1.2" opacity="0.9"/>
<line x1="1828.61" y1="900.73" x2="1836.31" y2="900.73" stroke="#000" stroke-width="1.2" opacity="0.9"/>
<line x1="1828.61" y1="904.32" x2="1836.31" y2="904.32" stroke="#000" stroke-width="1.2" opacity="0.9"/>
<line x1="1828.61" y1="906.03" x2="1836.31" y2="906.03" stroke="#000" stroke-width="1.2" opacity="0.9"/>
<line x1="1829.11" y1="902.5" x2="1835.81" y2="902.5" stroke="#fff" stroke-width="0.9" opacity="0.45"/>
<line x1="1832.46" y1="907.9" x2="1832.46" y2="911.25" stroke="#000" stroke-width="0.9" opacity="0.3"/>
<line x1="1832.46" y1="855" x2="1832.46" y2="830" class="wh"/>
<line x1="1829.75" y1="830" x2="1835.18" y2="830" class="bx"/>
<line x1="1832.46" y1="896.5" x2="1832.46" y2="872.2" class="wh"/>
<line x1="1829.75" y1="896.5" x2="1835.18" y2="896.5" class="bx"/>
<rect x="1827.03" y="855" width="10.86" height="17.2" class="bx"/>
<line x1="1827.03" y1="863" x2="1837.89" y2="863" class="bx"/>
<use href="#m" x="1920.29" y="823.8" opacity="0.32"/>
<use href="#m" x="1920.29" y="826" opacity="0.32"/>
<use href="#m" x="1920.29" y="828.2" opacity="0.32"/>
<use href="#m" x="1920.29" y="830.4" opacity="0.32"/>
<rect x="1916.44" y="831.5" width="7.7" height="7.5" rx="1.6" fill="#000"/>
<rect x="1916.44" y="902" width="7.7" height="17" rx="1" fill="#000" opacity="0.55"/>
<line x1="1920.29" y1="902" x2="1920.29" y2="919" stroke="#000" stroke-width="1" opacity="0.3"/>
<line x1="1916.44" y1="903.9" x2="1924.14" y2="903.9" stroke="#000" stroke-width="1.2" opacity="0.8"/>
<line x1="1916.44" y1="905.8" x2="1924.14" y2="905.8" stroke="#000" stroke-width="1.2" opacity="0.8"/>
<line x1="1916.44" y1="910.02" x2="1924.14" y2="910.02" stroke="#000" stroke-width="1.2" opacity="0.8"/>
<line x1="1916.44" y1="911.48" x2="1924.14" y2="911.48" stroke="#000" stroke-width="1.2" opacity="0.8"/>
<line x1="1916.44" y1="914.55" x2="1924.14" y2="914.55" stroke="#000" stroke-width="1.2" opacity="0.8"/>
<line x1="1916.44" y1="916.98" x2="1924.14" y2="916.98" stroke="#000" stroke-width="1.2" opacity="0.8"/>
<line x1="1916.94" y1="909" x2="1923.64" y2="909" stroke="#fff" stroke-width="0.9" opacity="0.45"/>
<line x1="1916.94" y1="913" x2="1923.64" y2="913" stroke="#fff" stroke-width="0.9" opacity="0.45"/>
<line x1="1920.29" y1="919" x2="1920.29" y2="922.35" stroke="#000" stroke-width="0.9" opacity="0.3"/>
<line x1="1920.29" y1="862.4" x2="1920.29" y2="838.5" class="wh"/>
<line x1="1917.58" y1="838.5" x2="1923.01" y2="838.5" class="bx"/>
<line x1="1920.29" y1="902" x2="1920.29" y2="878.7" class="wh"/>
<line x1="1917.58" y1="902" x2="1923.01" y2="902" class="bx"/>
<rect x="1914.86" y="862.4" width="10.86" height="16.3" class="bx"/>
<line x1="1914.86" y1="869.7" x2="1925.72" y2="869.7" class="bx"/>
<path d="M1376.9 1123.8v-9M1376.9 714.5v9M1575.8 1123.8v-9M1575.8 714.5v9M1774.7 1123.8v-9M1774.7 714.5v9M1178 1105.2h9M1973.6 1105.2h-9M1178 1012.2h9M1973.6 1012.2h-9M1178 919.2h9M1973.6 919.2h-9M1178 826.2h9M1973.6 826.2h-9M1178 733.2h9M1973.6 733.2h-9" class="ax"/>
<rect x="1178" y="714.5" width="795.6" height="409.3" class="ax"/>
<text transform="translate(1178 1177.8) scale(1 1.04)" class="tk" text-anchor="middle">0</text>
<text transform="translate(1376.9 1177.8) scale(1 1.04)" class="tk" text-anchor="middle">0.5</text>
<text transform="translate(1575.8 1177.8) scale(1 1.04)" class="tk" text-anchor="middle">1</text>
<text transform="translate(1774.7 1177.8) scale(1 1.04)" class="tk" text-anchor="middle">1.5</text>
<text transform="translate(1973.6 1177.8) scale(1 1.04)" class="tk" text-anchor="middle">2</text>
<text transform="translate(1162.5 1120.4) scale(1 1.04)" class="tk" text-anchor="end">-0.1</text>
<text transform="translate(1162.5 1027.4) scale(1 1.04)" class="tk" text-anchor="end">-0.05</text>
<text transform="translate(1162.5 934.4) scale(1 1.04)" class="tk" text-anchor="end">0</text>
<text transform="translate(1162.5 841.4) scale(1 1.04)" class="tk" text-anchor="end">0.05</text>
<text transform="translate(1162.5 748.4) scale(1 1.04)" class="tk" text-anchor="end">0.1</text>
<text transform="translate(1575.8 1232) scale(1 1.04)" class="lb" text-anchor="middle">Cell velocity (m/s)</text>
<text transform="translate(1054.6 919.15) rotate(-90) scale(1 1.04)" class="lb" text-anchor="middle">Mid-slope shift (%)</text>
<text x="1045" y="680" class="tt">D)</text>
</g>
</svg>
</body></html>
